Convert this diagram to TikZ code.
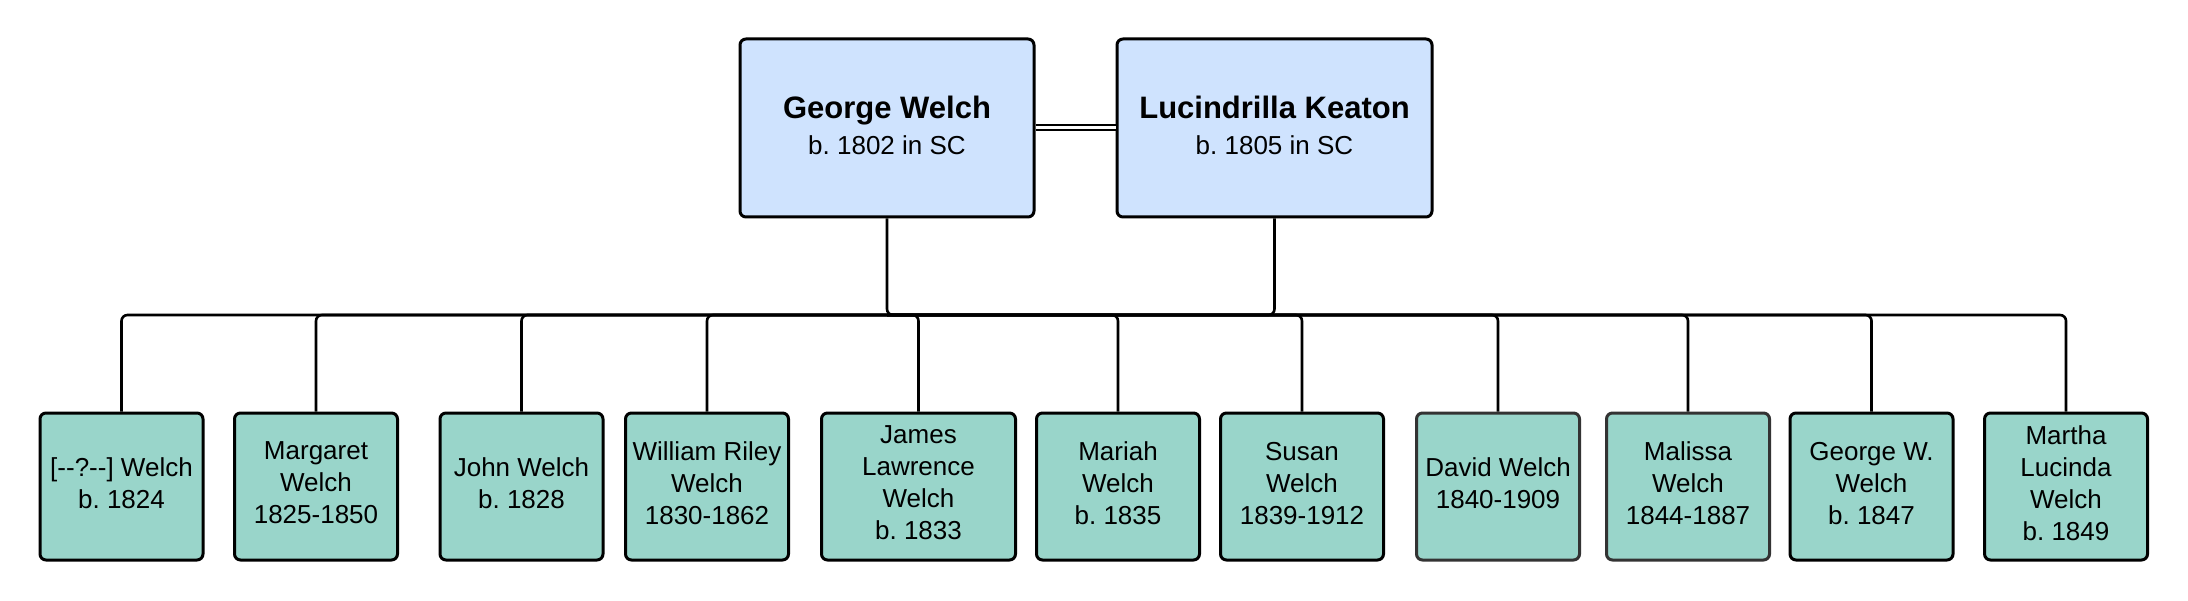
\documentclass[tikz,border=0pt]{standalone}
\usepackage{fontspec}
\setmainfont{Liberation Sans}
\frenchspacing

\definecolor{parentblue}{RGB}{207,227,254}
\definecolor{kidgreen}{RGB}{153,213,202}

\tikzset{
  parent/.style={draw=black, line width=1.5pt, rounded corners=3pt, fill=parentblue,
    minimum height=89pt, text depth=3pt, align=center, font=\fontsize{13}{18}\selectfont},
  kid/.style={draw=black, line width=1.5pt, rounded corners=3pt, fill=kidgreen,
    minimum width=81.5pt, minimum height=73.5pt, inner sep=1pt, text depth=3.5pt,
    align=center, font=\fontsize{13}{16}\selectfont},
  link/.style={line width=1.3pt, rounded corners=3pt},
  marriage/.style={double, double distance=1.5pt, line width=1pt}
}

\newcommand{\namefont}{\fontsize{15.5}{18}\selectfont\bfseries}

\begin{document}
\begin{tikzpicture}[x=0.5pt,y=0.5pt]

\useasboundingbox (0,0) rectangle (2188,600);

\node[parent, minimum width=147pt] (George) at (887,472)
  {{\namefont George Welch}\\b. 1802 in SC};
\node[parent, minimum width=157.5pt] (Lucindrilla) at (1274.5,472)
  {{\namefont Lucindrilla Keaton}\\b. 1805 in SC};

\draw[marriage] (George.east) -- (Lucindrilla.west);

\coordinate (bar) at (0,285);

\node[kid] (k1) at (121.5,113.5) {[-{}-?-{}-] Welch\\b. 1824};
\node[kid] (k2) at (316,113.5) {Margaret\\Welch\\1825-1850};
\node[kid] (k3) at (521.5,113.5) {John Welch\\b. 1828};
\node[kid] (k4) at (707,113.5) {William Riley\\Welch\\1830-1862};
\node[kid, minimum width=97pt] (k5) at (918.5,113.5) {James\\Lawrence\\Welch\\b. 1833};
\node[kid] (k6) at (1118,113.5) {Mariah\\Welch\\b. 1835};
\node[kid] (k7) at (1302,113.5) {Susan\\Welch\\1839-1912};
\node[kid, draw=black!80] (k8) at (1498,113.5) {David Welch\\1840-1909};
\node[kid, draw=black!80] (k9) at (1688,113.5) {Malissa\\Welch\\1844-1887};
\node[kid] (k10) at (1871.5,113.5) {George W.\\Welch\\b. 1847};
\node[kid] (k11) at (2066,113.5) {Martha\\Lucinda\\Welch\\b. 1849};

\draw[link] (George.south) -- (George.south |- bar) -| (Lucindrilla.south);
\foreach \k in {k1,k2,k3,k4,k5,k6,k7,k8,k9,k10,k11}
  \draw[link] (George.south |- bar) -| (\k.north);

\end{tikzpicture}
\end{document}
